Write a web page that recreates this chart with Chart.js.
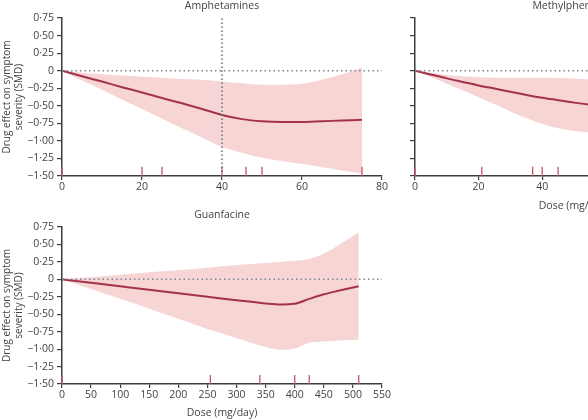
<!DOCTYPE html>
<html>
<head>
<meta charset="utf-8">
<script src="https://cdn.jsdelivr.net/npm/chart.js@4.4.1/dist/chart.umd.min.js"></script>
<style>
html, body { margin: 0; padding: 0; background: #fff; overflow: hidden; width: 588px; height: 420px; }
.panel { position: absolute; }
</style>
</head>
<body>
<div class="panel" style="left:0px;top:0px"><canvas id="amp" width="400" height="200"></canvas></div>
<div class="panel" style="left:400px;top:0px"><canvas id="mph" width="351" height="213"></canvas></div>
<div class="panel" style="left:0px;top:209px"><canvas id="gua" width="400" height="211"></canvas></div>
<script>
// amphetamines
const ampDose  = [0, 5, 10, 15, 20, 25, 30, 35, 40, 45, 50, 55, 60, 65, 70, 75];
const ampMean  = [0, -0.08, -0.155, -0.235, -0.31, -0.39, -0.465, -0.545, -0.63, -0.69, -0.72, -0.73, -0.73, -0.72, -0.71, -0.70];
const ampUpper = [0, -0.03, -0.05, -0.07, -0.085, -0.10, -0.12, -0.13, -0.155, -0.18, -0.20, -0.20, -0.185, -0.13, -0.05, 0.04];
const ampLower = [0, -0.14, -0.27, -0.41, -0.545, -0.68, -0.82, -0.95, -1.085, -1.17, -1.24, -1.285, -1.33, -1.375, -1.42, -1.465];
const ampRug   = [0, 20, 25, 40, 46, 50, 75];
const ampXTicks = [0, 20, 40, 60, 80];

// methylphenidate
const mphDose  = [0, 5, 10, 15, 20, 25, 30, 35, 40, 45, 50, 55, 60];
const mphMean  = [0, -0.055, -0.11, -0.16, -0.21, -0.255, -0.30, -0.345, -0.385, -0.42, -0.455, -0.485, -0.51];
const mphUpper = [0, -0.03, -0.06, -0.08, -0.095, -0.10, -0.10, -0.10, -0.10, -0.105, -0.115, -0.125, -0.135];
const mphLower = [0, -0.09, -0.185, -0.28, -0.38, -0.48, -0.58, -0.675, -0.76, -0.82, -0.86, -0.88, -0.89];
const mphRug   = [0, 21, 37, 40, 45];
const mphXTicks = [0, 20, 40, 60, 80, 100];

// guanfacine
const guaDose  = [0, 50, 100, 150, 200, 250, 300, 350, 375, 400, 425, 450, 475, 510];
const guaMean  = [0, -0.05, -0.10, -0.15, -0.20, -0.25, -0.30, -0.345, -0.36, -0.35, -0.28, -0.215, -0.165, -0.10];
const guaUpper = [0, 0.03, 0.065, 0.10, 0.13, 0.165, 0.205, 0.235, 0.25, 0.265, 0.29, 0.37, 0.49, 0.67];
const guaLower = [0, -0.14, -0.28, -0.42, -0.565, -0.71, -0.84, -0.97, -1.01, -0.99, -0.91, -0.89, -0.875, -0.865];
const guaRug   = [0, 255, 340, 400, 425, 510];
const guaXTicks = [0, 50, 100, 150, 200, 250, 300, 350, 400, 450, 500, 550];

const smdTicks = [0.75, 0.5, 0.25, 0, -0.25, -0.5, -0.75, -1, -1.25, -1.5];

const lineCol = '#a3334b';
const bandCol = '#f7d5d5';
const rugCol = '#c9566e';
const refCol = '#7d8696';
const axisCol = '#3c3c3c';
const textCol = '#444444';
const fontFam = '"Open Sans", sans-serif';

function pts(xs, ys) {
  return xs.map((x, i) => ({x: x, y: ys[i]}));
}

function rugPts(xs) {
  var out = [];
  xs.forEach(x => {
    out.push({x: x, y: -1.5});
    out.push({x: x, y: -1.5 + 0.13});
    out.push({x: x, y: null});
  });
  return out;
}

function fmtSmd(v) {
  if (v === 0) return '0';
  return (v < 0 ? '\u2212' : '') + Math.abs(v).toFixed(2).replace('.', '\u00b7');
}

function makePanel(id, p) {
  const xmax = p.xTicks[p.xTicks.length - 1];
  const datasets = [
    {data: [{x: 0, y: 0}, {x: xmax, y: 0}], borderColor: refCol, borderWidth: 1.5, borderDash: [1.5, 3], pointRadius: 0}
  ];
  if (p.vline !== undefined) {
    datasets.push({data: [{x: p.vline, y: -1.5}, {x: p.vline, y: 0.75}], borderColor: '#666d78', borderWidth: 1.5, borderDash: [1.5, 2.5], pointRadius: 0});
  }
  datasets.push(
    {data: rugPts(p.rug), borderColor: rugCol, borderWidth: 1.3, pointRadius: 0, spanGaps: false, clip: false},
    {data: pts(p.dose, p.mean), borderColor: lineCol, borderWidth: 2, pointRadius: 0, cubicInterpolationMode: 'monotone'},
    {data: pts(p.dose, p.upper), borderWidth: 0, borderColor: bandCol, backgroundColor: bandCol, pointRadius: 0, cubicInterpolationMode: 'monotone', fill: '+1'},
    {data: pts(p.dose, p.lower), borderWidth: 0, borderColor: bandCol, pointRadius: 0, cubicInterpolationMode: 'monotone', fill: false}
  );

  return new Chart(document.getElementById(id), {
    type: 'line',
    data: {datasets: datasets},
    options: {
      responsive: false,
      animation: false,
      events: [],
      layout: {padding: {left: 0, right: 18, top: 0, bottom: 0}},
      plugins: {
        legend: {display: false},
        tooltip: {enabled: false},
        title: {
          display: true, text: p.title, fullSize: false, color: textCol,
          font: {family: fontFam, size: 10.5, weight: 'normal', lineHeight: 1.2},
          padding: {top: 0, bottom: 5.4}
        }
      },
      scales: {
        x: {
          type: 'linear', min: 0, max: xmax,
          afterBuildTicks: s => { s.ticks = p.xTicks.map(v => ({value: v})); },
          afterFit: s => { s.height = p.xh; },
          border: {display: true, color: axisCol, width: 1.5},
          grid: {display: true, drawOnChartArea: false, drawTicks: true, tickLength: 4, color: axisCol, lineWidth: 1.2},
          ticks: {color: textCol, padding: 1, maxRotation: 0, font: {family: fontFam, size: 10.5}},
          title: {display: !!p.xTitle, text: p.xTitle || '', color: textCol, padding: {top: 0, bottom: 1},
                  font: {family: fontFam, size: 10.5, lineHeight: 1.2}}
        },
        y: {
          min: -1.5, max: 0.75,
          afterBuildTicks: s => { s.ticks = smdTicks.map(v => ({value: v})); },
          afterFit: s => { s.width = p.yw; },
          border: {display: true, color: axisCol, width: 1.5},
          grid: {display: true, drawOnChartArea: false, drawTicks: true, tickLength: 5, color: axisCol, lineWidth: 1.2},
          ticks: {display: p.yLabels, color: textCol, padding: 3, callback: v => fmtSmd(v), font: {family: fontFam, size: 10.5}},
          title: {display: p.yLabels, text: ['Drug effect on symptom', 'severity (SMD)'], color: textCol, padding: {top: 1, bottom: 0},
                  font: {family: fontFam, size: 10, lineHeight: 1.2}}
        }
      }
    }
  });
}

makePanel('amp', {title: 'Amphetamines', dose: ampDose, mean: ampMean, upper: ampUpper, lower: ampLower,
  rug: ampRug, xTicks: ampXTicks, vline: 40, yLabels: true, yw: 62, xh: 24});
makePanel('mph', {title: 'Methylphenidate', dose: mphDose, mean: mphMean, upper: mphUpper, lower: mphLower,
  rug: mphRug, xTicks: mphXTicks, yLabels: false, yw: 15, xh: 37, xTitle: 'Dose (mg/day)'});
makePanel('gua', {title: 'Guanfacine', dose: guaDose, mean: guaMean, upper: guaUpper, lower: guaLower,
  rug: guaRug, xTicks: guaXTicks, yLabels: true, yw: 62, xh: 36, xTitle: 'Dose (mg/day)'});
</script>
</body>
</html>
